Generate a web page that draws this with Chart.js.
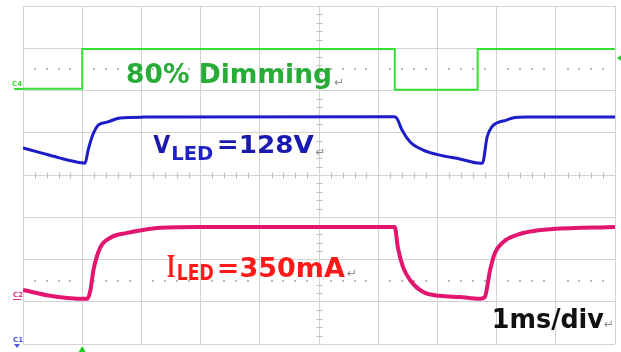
<!DOCTYPE html>
<html>
<head>
<meta charset="utf-8">
<script src="https://cdn.jsdelivr.net/npm/chart.js@4.4.1/dist/chart.umd.min.js"></script>
<style>
  html, body { margin: 0; padding: 0; background: #ffffff; }
  #wrap { width: 621px; height: 352px; position: relative; }
</style>
</head>
<body>
<div id="wrap"><canvas id="scope"></canvas></div>
<script>
// Time axis in ms (1 ms/div, 10 divisions); levels in screen divisions from the centre line.
const dimTime  = [0, 1.00, 1.00, 6.28, 6.28, 7.68, 7.68, 10];
const dimLevel = [2.04, 2.04, 2.98, 2.98, 2.02, 2.02, 2.98, 2.98];

const vledTime  = [0, 0.29, 0.63, 0.98, 1.05, 1.10, 1.19, 1.27, 1.42, 1.64, 2.03, 6.28,
                   6.32, 6.40, 6.54, 6.76, 7.04, 7.38, 7.72, 7.76, 7.84, 7.92, 8.00, 8.17, 8.27, 8.51, 10];
const vledLevel = [0.64, 0.53, 0.40, 0.29, 0.28, 0.59, 0.99, 1.18, 1.25, 1.35, 1.37, 1.38,
                   1.33, 1.07, 0.78, 0.59, 0.47, 0.38, 0.28, 0.28, 0.90, 1.14, 1.23, 1.30, 1.35, 1.37, 1.37];

const iledTime  = [0, 0.46, 0.75, 1.09, 1.14, 1.19, 1.30, 1.47, 1.76, 2.03, 2.32, 2.99, 6.28,
                   6.33, 6.42, 6.54, 6.76, 7.04, 7.38, 7.72, 7.80, 7.89, 7.97, 8.11, 8.34, 8.61, 8.95, 10];
const iledLevel = [-2.72, -2.86, -2.91, -2.93, -2.72, -2.25, -1.73, -1.49, -1.37, -1.30, -1.25, -1.23, -1.23,
                   -1.70, -2.18, -2.49, -2.77, -2.86, -2.89, -2.93, -2.89, -2.25, -1.85, -1.59, -1.42, -1.33, -1.28, -1.23];

const timeDivisions = [0, 1, 2, 3, 4, 5, 6, 7, 8, 9, 10];

const toPoints = (xs, ys) => xs.map((x, i) => ({ x: x, y: ys[i] }));

// Graticule extras: dotted guides at +/-2.5 div and minor ticks on the centre cross
const graticule = {
  id: 'graticule',
  beforeDatasetsDraw(chart) {
    const { ctx, chartArea: a, scales: { x, y } } = chart;
    ctx.save();
    ctx.fillStyle = '#b8b8b8';
    [2.5, -2.5].forEach(lv => {
      const py = Math.round(y.getPixelForValue(lv));
      for (let t = 0; t <= 50; t++) {
        if (t % 5 === 0) continue;
        const px = x.getPixelForValue(t / 5);
        ctx.fillRect(Math.round(px) - 1, py - 1, 2, 2);
      }
    });
    ctx.strokeStyle = '#bdbdbd';
    ctx.lineWidth = 1;
    const cy = Math.round(y.getPixelForValue(0)) + 0.5;
    const cx = Math.round(x.getPixelForValue(5)) + 0.5;
    ctx.beginPath();
    for (let t = 1; t < 50; t++) {
      if (t % 5 === 0) continue;
      const px = Math.round(x.getPixelForValue(t / 5)) + 0.5;
      ctx.moveTo(px, cy - 3); ctx.lineTo(px, cy + 3);
    }
    for (let t = 1; t < 40; t++) {
      if (t % 5 === 0) continue;
      const py = Math.round(y.getPixelForValue(-4 + t / 5)) + 0.5;
      ctx.moveTo(cx - 3, py); ctx.lineTo(cx + 3, py);
    }
    ctx.stroke();
    ctx.restore();
  },
  afterDatasetsDraw(chart) {
    const { ctx, chartArea: a, scales: { x, y } } = chart;
    ctx.save();
    // channel markers on the left edge
    ctx.font = 'bold 7px "DejaVu Sans"';
    ctx.textBaseline = 'alphabetic';
    const c4y = y.getPixelForValue(dimLevel[0]);
    ctx.fillStyle = '#33dd33';
    ctx.fillText('C4', 12, c4y - 3);
    ctx.fillRect(14, Math.round(c4y) - 1, a.left - 14, 2);
    const c2y = y.getPixelForValue(-2.84);
    ctx.fillStyle = '#e8308a';
    ctx.fillText('C2', 13, c2y + 2);
    ctx.fillRect(13, Math.round(c2y) + 4, 8, 1);
    ctx.fillStyle = '#4a5ae0';
    ctx.fillText('C1', 13, a.bottom - 2);
    ctx.beginPath();
    ctx.moveTo(14, a.bottom); ctx.lineTo(20, a.bottom); ctx.lineTo(17, a.bottom + 4); ctx.closePath();
    ctx.fill();
    // trigger position and trigger level arrows
    ctx.fillStyle = '#22cc22';
    const tx = x.getPixelForValue(dimTime[1]);
    ctx.beginPath();
    ctx.moveTo(tx - 3.5, 352); ctx.lineTo(tx + 3.5, 352); ctx.lineTo(tx, 346); ctx.closePath();
    ctx.fill();
    const ty = y.getPixelForValue(2.77);
    ctx.beginPath();
    ctx.moveTo(617, ty); ctx.lineTo(622, ty - 3.5); ctx.lineTo(622, ty + 3.5); ctx.closePath();
    ctx.fill();

    // annotation texts
    const run = (text, px, base, font, color, width) => {
      ctx.font = font;
      ctx.fillStyle = color;
      const w = ctx.measureText(text).width;
      ctx.save();
      ctx.translate(px, base);
      ctx.scale(width ? width / w : 1, 1);
      ctx.fillText(text, 0, 0);
      ctx.restore();
    };
    const sans = '"DejaVu Sans", sans-serif';
    const grey = '#8c8c8c';

    let ax = x.getPixelForValue(1.74), ab = y.getPixelForValue(2.18);
    run('80% Dimming', ax, ab, 'bold 27px ' + sans, '#27ad37', 206);
    run('\u21B5', ax + 208, ab + 3, '12px ' + sans, grey);

    ax = x.getPixelForValue(2.20); ab = y.getPixelForValue(0.52);
    run('V', ax, ab, 'bold 25px ' + sans, '#1a1ab2', 17);
    run('LED', ax + 18, ab + 6.5, 'bold 19px ' + sans, '#2020c8', 42);
    run('=128V', ax + 63.5, ab, 'bold 24px ' + sans, '#1a1ab2', 97);
    run('\u21B5', ax + 162, ab + 3, '12px ' + sans, grey);

    ax = x.getPixelForValue(2.43); ab = y.getPixelForValue(-2.41);
    run('I', ax, ab, 'bold 33px "Liberation Serif", serif', '#ff1a1a', 8.5);
    run('LED', ax + 10, ab + 3, 'bold 22px ' + sans, '#ff1a1a', 37);
    run('=350mA', ax + 50, ab, 'bold 27px ' + sans, '#ff1a1a', 128);
    run('\u21B5', ax + 180, ab, '12px ' + sans, grey);

    ax = x.getPixelForValue(7.92); ab = y.getPixelForValue(-3.62);
    run('1ms/div', ax, ab, 'bold 26px ' + sans, '#111111', 112);
    run('\u21B5', ax + 112, ab, '12px ' + sans, grey);
    ctx.restore();
  }
};

const gridStyle = { color: '#d2d2d2', lineWidth: 1, drawTicks: false };

new Chart(document.getElementById('scope'), {
  type: 'line',
  data: {
    datasets: [
      { label: 'Dimming', data: toPoints(dimTime, dimLevel), borderColor: '#33e033',
        borderWidth: 2, tension: 0, pointRadius: 0 },
      { label: 'VLED', data: toPoints(vledTime, vledLevel), borderColor: '#1c1cc8',
        borderWidth: 3, cubicInterpolationMode: 'monotone', pointRadius: 0 },
      { label: 'ILED', data: toPoints(iledTime, iledLevel), borderColor: '#e3166f',
        borderWidth: 4, cubicInterpolationMode: 'monotone', pointRadius: 0 }
    ]
  },
  options: {
    responsive: true,
    maintainAspectRatio: false,
    animation: false,
    devicePixelRatio: 1,
    layout: { padding: { left: 23, right: 6, top: 6, bottom: 8 } },
    plugins: { legend: { display: false }, tooltip: { enabled: false } },
    scales: {
      x: { type: 'linear', min: 0, max: 10,
           afterBuildTicks: s => { s.ticks = timeDivisions.map(v => ({ value: v })); },
           ticks: { display: false }, grid: gridStyle, border: { display: false } },
      y: { type: 'linear', min: -4, max: 4,
           ticks: { display: false, stepSize: 1 }, grid: gridStyle, border: { display: false } }
    }
  },
  plugins: [graticule]
});
</script>
</body>
</html>
